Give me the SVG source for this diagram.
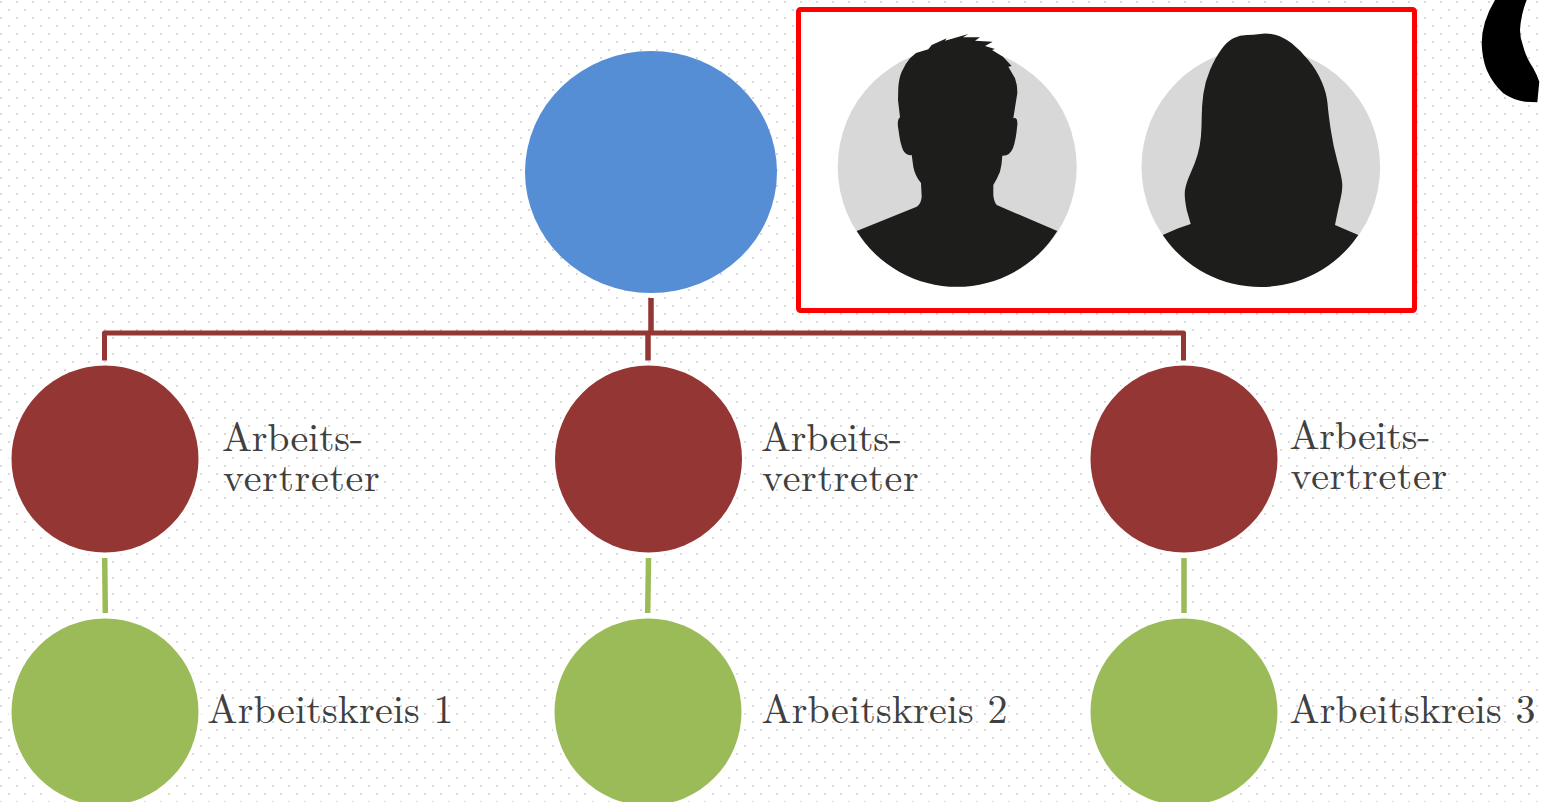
<svg xmlns="http://www.w3.org/2000/svg" width="1543" height="802" viewBox="0 0 1543 802">
<style>
.t{font-family:"Latin Modern Roman","DejaVu Serif","Liberation Serif",serif;font-size:40px;fill:#404040}
.v{letter-spacing:.65px}.a{letter-spacing:-.2px}.k{letter-spacing:.15px}
.r{fill:#943634;stroke:#fff;stroke-width:6;paint-order:stroke}.g{fill:#9bbb59;stroke:#fff;stroke-width:6;paint-order:stroke}
.rl{stroke:#943634;stroke-width:5;fill:none;stroke-linejoin:round}.rm{stroke:#943634;stroke-width:5.500;fill:none}.gl{stroke:#9bbb59;stroke-width:5.500;fill:none}
.disc{fill:#d8d8d8}.sil{fill:#1d1d1b}
</style>
<defs>
<pattern id="dots" x="0" y="0" width="16" height="16" patternUnits="userSpaceOnUse">
<rect x="0" y="1" width="2" height="2" fill="#d9d9d9"/><rect x="8" y="9" width="2" height="2" fill="#d9d9d9"/>
</pattern>
</defs>
<rect width="1543" height="802" fill="#fff"/>
<rect width="1543" height="802" fill="url(#dots)"/>
<g id="top"><ellipse cx="651" cy="172" rx="126" ry="121" fill="#558ed5"/></g>
<g id="photo">
<rect x="798.500" y="9.500" width="616" height="301" rx="2" fill="#fff" stroke="#f00" stroke-width="5"/>
<circle class="disc" cx="957.200" cy="167" r="119.500"/>
<circle class="disc" cx="1260.800" cy="167" r="119.300"/>
<path class="sil" d="M856.700 231L916.700 206.700Q921 204 921.700 196.700L921 183Q915 176 913.300 166.700L911.700 155Q906 156 903 150Q900 143 898.500 130Q896.500 120 900 117.300L898 100L898.300 87.300Q899 78 901.700 71.700Q905 64 910 58.300L916 53L928.300 49.300L931.700 45L946.700 38.300L945 40.700L968.300 34L963 37.300L980 37.300L975 40.700L992.700 41.700L985 46L995 49L992 50L1003 56.700L1011.700 66L1008.300 66.700L1015 78.300Q1017.500 85 1017.300 93.300L1013.300 118.300Q1018 117 1017.300 125Q1016 140 1013 148Q1010 156 1002.300 155.700Q1002 164 1000 171.700Q997 179 993.300 185L993.300 195Q994 202 996.700 205L1057.300 231A118 118 0 0 1 856.700 231Z"/>
<path class="sil" d="M1162.700 235L1178.300 228.300L1190.700 224L1186.700 210Q1184 196.700 1185 190Q1186 183.300 1190.500 173.300Q1195 163.300 1197.500 155Q1200 146.700 1200.900 136.700Q1201.700 126.700 1201.700 116.700Q1201.700 106.700 1203.300 94.200Q1205 81.700 1210 70Q1215 58.300 1220.900 50Q1226.700 41.700 1233.300 38.300Q1240 35 1246.700 35Q1253.300 35 1260 33.900Q1266.700 32.700 1275 34.700Q1283.300 36.700 1291.700 43.300Q1300 50 1308.300 60Q1316.700 70 1321.700 81.700Q1326.700 93.300 1327.500 103.300Q1328.300 113.300 1330.800 130Q1333.300 146.700 1337.500 161.700Q1341.700 176.700 1342.200 183.400Q1342.700 190 1340.500 199Q1338.300 208.300 1335 225L1358.300 235A118 118 0 0 1 1162.700 235Z"/>
</g>
<g id="deco"><path d="M1495 0Q1481.700 22 1481.700 43.300Q1482 58 1486.700 70Q1493 84 1503.300 93.300Q1513 100 1525 101.700L1537.300 102.300L1539.300 81.700Q1537 75 1533.300 68.300Q1526 57 1523.300 46.700Q1520 38 1520 30Q1521 14 1526.700 0Z" fill="#000"/></g>
<g id="rep1"><circle class="r" cx="105" cy="459" r="93.500"/><text class="t"><tspan class="a" x="222" y="451">Arbeits-</tspan><tspan class="v" x="223" y="491">vertreter</tspan></text></g>
<g id="rep2"><circle class="r" cx="648.500" cy="459" r="93.500"/><text class="t"><tspan class="a" x="761" y="451">Arbeits-</tspan><tspan class="v" x="762" y="491">vertreter</tspan></text></g>
<g id="rep3"><circle class="r" cx="1184" cy="459" r="93.500"/><text class="t"><tspan class="a" x="1289.500" y="449">Arbeits-</tspan><tspan class="v" x="1290.500" y="489">vertreter</tspan></text></g>
<g id="ak1"><circle class="g" cx="105" cy="712" r="93.500"/><text class="t k" x="207.500" y="723">Arbeitskreis 1</text></g>
<g id="ak2"><circle class="g" cx="648" cy="712" r="93.500"/><text class="t k" x="761.500" y="723">Arbeitskreis 2</text></g>
<g id="ak3"><circle class="g" cx="1184" cy="712" r="93.500"/><text class="t k" x="1289.500" y="723">Arbeitskreis 3</text></g>
<g id="connectors">
<path class="rl" d="M104.500 360.500V333H1183.500V360.500"/>
<path class="rm" d="M651 298V333M648 333V360.500"/>
<path class="gl" d="M104.700 558L105.300 613M648.500 558L647.700 613M1184 558V613"/>
</g>
</svg>
